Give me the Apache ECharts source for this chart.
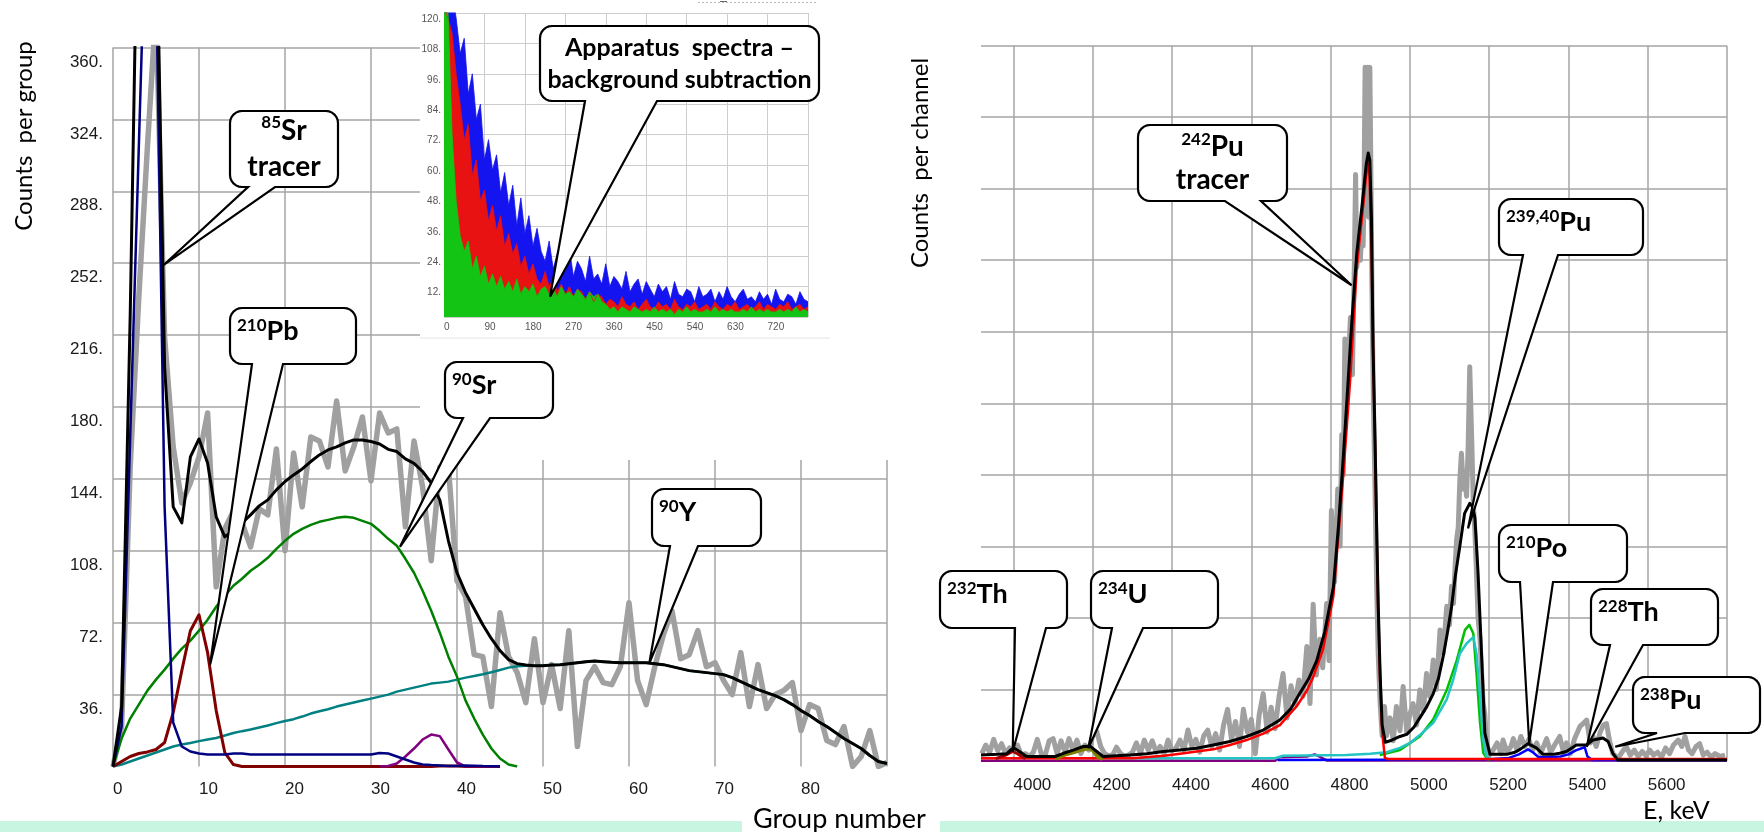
<!DOCTYPE html>
<html><head><meta charset="utf-8">
<script src="https://cdn.jsdelivr.net/npm/echarts@6/dist/echarts.min.js"></script>
<style>html,body{margin:0;padding:0;background:#fff}#c{width:1764px;height:832px}</style>
</head><body><div id="c"></div>
<script>
// ---------------- LEFT CHART DATA (group number 0..90) ----------------
const GROUPS = [0,1,2,3,4,5,6,7,8,9,10,11,12,13,14,15,16,17,18,19,20,21,22,23,24,25,26,27,28,29,30,31,32,33,34,35,36,37,38,39,40,41,42,43,44,45,46,47,48,49,50,51,52,53,54,55,56,57,58,59,60,61,62,63,64,65,66,67,68,69,70,71,72,73,74,75,76,77,78,79,80,81,82,83,84,85,86,87,88,89,90];
const L_MEASURED = [0,20,150,235,310,380,215,160,132,142,155,177,90,119,128,122,110,129,126,159,108,157,130,165,163,150,183,148,160,175,143,177,167,169,120,163,140,103,150,150,93,85,56,55,30,77,55,47,32,64,32,51,29,68,10,43,50,42,41,50,82,43,31,50,66,78,54,56,68,50,52,43,36,57,30,51,29,36,38,42,18,31,29,13,11,20,0,5,18,0,2];
const L_FIT = [0,30,226,470,520,440,200,130,122,155,164,152,125,115,118,122,126,130.5,133.5,138.5,142.7,146,149,152.7,156,158.5,160,162,163.5,163.5,162.7,161.5,158.8,157.7,154,151.8,147.7,142,133.5,113,97,87,79,71,64,58,53.5,51.5,50.8,50.5,50.5,50.8,51,51.5,52,52.5,52.8,52.5,52.2,52,52,52,52,51.5,51,50,49,48,47.5,47,46.5,46,44.5,42.5,40.5,38.5,37,35.5,33.5,31,28,25.5,22.5,20,17,14,11.5,9,5.5,2.5,1.5];
const L_SR85 = [0,20,165,310,455,400,130,22,10,7.5,6.5,6,6,6,6.5,6.5,6,6,6,6,6,6,6,6,6,6,6,6,6,6,6,6.8,6.5,5,3.5,2,1,0.7,0.5,0.3,0.3,0.5,0.4,0.2,0.1,0];
const L_PB210 = [0,2.5,5,6.5,7.3,8.5,12,27,48,68,76,57,28,7,1,0,0,0,0,0,0,0,0,0,0,0,0,0,0,0,0,0,0,0,0,0,0,0,0.3,0.3,0.2,0,0,0,0,0];
const L_SR90 = [0,14,24,31,38,43.5,48.5,54,59,63,68,73.5,80,85.5,90.5,94,98,101,104.5,109,113,116.5,119,121,122.5,123.5,124.5,125,124.5,123,121.5,118,114,110.5,104,97,88,78,67,55,45,33,24,16,9,4,1,0];
const L_Y90 = [0,1,2.5,4,5.5,7,8.5,10,11,11.8,12.7,13.5,14.3,15.5,16.8,17.7,18.5,19.5,20.5,21.7,22.8,23.7,25,26.5,27.7,28.7,30,31,32,33,34,35,36,37.5,38.5,39.5,40.5,41.5,42,42.5,43.5,44.5,45.3,46.2,47.2,48.3,49.5,50.2,50.5,50.5,50.5,50.8,51,51.5,52,52.5,52.8,52.5,52.2,52,52,52,52,51.5,51,50,49,48,47.5,47,46.5,46,44.5,42.5,40.5,38.5,37,35.5,33.5,31,28,25.5,22.5,20,17,14,11.5,9,5.5,2.5,1.5];
const L_PURPLE = [null,null,null,null,null,null,null,null,null,null,null,null,null,null,null,null,null,null,null,null,null,null,null,null,null,null,null,null,null,null,null,0,0.3,1.5,5,9,13.5,16,15.2,8.5,2,0,0,0,0,0];

// ---------------- INSET DATA (apparatus spectra) ----------------
const INSET_CH = [0,9,18,27,36,45,54,63,72,81,90,99,108,117,126,135,144,153,162,171,180,189,198,207,216,225,234,243,252,261,270,279,288,297,306,315,324,333,342,351,360,369,378,387,396,405,414,423,432,441,450,459,468,477,486,495,504,513,522,531,540,549,558,567,576,585,594,603,612,621,630,639,648,657,666,675,684,693,702,711,720,729,738,747,756,765,774,783,792,801,810];
const INSET_BLUE = [125,130,128,118,104,110,88,96,78,84,62,70,58,64,49,57,44,52,36,47,33,40,28,35,26,22,30,19,25,21,18,27,16,22,19,14,24,15,17,13,21,12,16,14,11,18,10,13,15,9,14,11,8,13,10,12,7,14,9,8,11,10,6,12,8,9,11,6,10,7,12,8,6,9,11,7,8,6,10,7,9,5,11,7,6,9,8,5,10,7,6];
const INSET_RED = [122,118,112,96,84,70,76,56,62,46,50,38,44,34,40,28,33,25,29,20,24,17,21,15,13,18,12,15,10,13,9,12,8,11,10,7,10,6,9,8,5,7,6,4,8,5,4,6,3,5,7,4,3,6,4,5,3,7,4,3,5,4,6,3,4,5,3,6,4,3,5,4,6,3,4,5,3,4,6,3,5,4,3,5,4,6,3,4,5,3,4];
const INSET_GREEN = [125,120,72,46,32,26,30,19,24,16,20,13,17,12,16,11,14,10,15,9,12,10,13,8,11,12,9,11,8,12,9,10,8,11,9,7,10,8,9,6,5,3,4,2,4,3,2,4,3,2,3,2,4,2,3,2,3,1,3,2,4,2,3,2,2,3,2,4,2,3,2,3,2,2,3,2,4,2,3,2,3,2,2,3,2,3,2,4,2,3,2];

// ---------------- RIGHT CHART DATA ([E keV, counts per channel]) ----------------
const R_MEASURED = [[3920,1.0],[3930,2.2],[3940,1.2],[3950,3.0],[3960,1.4],[3970,2.4],[3980,1.0],[3990,1.8],[4000,1.5],[4010,2.2],[4020,0.8],[4030,1.0],[4040,0.6],[4050,1.2],[4060,3.0],[4070,1.0],[4080,0.8],[4090,2.8],[4100,3.1],[4110,1.0],[4120,2.8],[4130,1.2],[4140,3.1],[4150,1.5],[4160,2.9],[4170,1.0],[4180,2.2],[4190,1.5],[4200,3.5],[4210,4.1],[4220,2.0],[4230,1.0],[4240,0.7],[4250,0.8],[4260,1.9],[4270,1.0],[4280,0.6],[4290,0.8],[4300,1.2],[4310,2.5],[4320,1.0],[4330,2.9],[4340,1.5],[4350,2.8],[4360,1.2],[4370,2.0],[4380,1.0],[4390,2.9],[4400,1.4],[4410,1.8],[4420,2.9],[4430,1.5],[4440,4.3],[4450,2.0],[4460,3.0],[4470,1.2],[4480,3.5],[4490,4.3],[4500,2.0],[4510,3.8],[4520,1.5],[4530,5.0],[4540,7.2],[4550,3.0],[4560,5.5],[4570,2.0],[4580,7.2],[4590,4.0],[4600,5.8],[4610,1.0],[4620,6.5],[4630,9.4],[4640,4.0],[4650,7.5],[4660,4.5],[4670,9.0],[4680,12.2],[4690,6.0],[4700,10.5],[4710,8.0],[4720,11.3],[4730,9.0],[4740,16.0],[4748,8.0],[4756,21.9],[4764,12],[4773,17],[4780,13],[4790,22],[4796,14],[4802,35],[4810,25],[4818,38],[4824,30],[4828,45.6],[4832,40],[4836,59],[4840,50],[4845,56],[4850,62],[4855,54],[4860,70],[4863,82],[4866,69],[4870,72],[4875,70],[4878,74],[4882,72],[4884,78],[4887,97],[4890,80],[4893,97],[4896,76],[4899,97],[4902,80],[4905,62],[4908,50],[4912,38],[4916,25],[4920,15],[4925,8],[4930,3.5],[4936,7.6],[4941,3.5],[4950,6],[4958,2.8],[4966,7.6],[4975,4.2],[4983,10.4],[4992,4],[5000,6.5],[5008,8.0],[5017,5],[5025,9.9],[5034,7],[5042,12.2],[5050,9],[5059,14.1],[5067,10],[5076,18.3],[5084,15],[5093,21.6],[5100,19],[5105,24.4],[5110,22],[5114,27.2],[5118,31],[5122,32.7],[5126,39.3],[5130,43],[5135,38],[5139,39.3],[5143,37],[5147,44],[5151,55.1],[5156,44.9],[5160,36],[5164,32],[5168,26.2],[5172,20],[5177,16.9],[5181,12.2],[5185,8],[5189,6.6],[5193,2.9],[5200,0.8],[5210,1.5],[5220,2.5],[5230,1.0],[5235,2.9],[5245,1.2],[5255,2.0],[5261,3.1],[5270,1.5],[5280,3.4],[5290,2.0],[5300,3.0],[5310,1.5],[5320,2.5],[5330,1.0],[5345,3.1],[5355,1.2],[5365,2.2],[5378,3.4],[5388,1.05],[5395,2.5],[5405,1.0],[5415,3.0],[5429,4.8],[5437,5.2],[5446,5.7],[5455,2.5],[5462,3.4],[5470,2.0],[5480,4.0],[5488,5.0],[5496,5.2],[5504,2.7],[5512,1.0],[5525,0.3],[5535,1.2],[5546,2.0],[5556,0.8],[5566,1.5],[5576,0.6],[5586,1.3],[5596,0.7],[5605,1.5],[5615,0.8],[5625,1.2],[5635,0.5],[5645,1.8],[5655,1.0],[5665,2.2],[5677,2.9],[5686,2.0],[5694,3.4],[5703,1.5],[5712,1.0],[5722,2.0],[5731,2.4],[5740,0.8],[5750,1.2],[5760,0.5],[5770,1.0],[5782,0.6],[5795,0.8]];
const R_FIT = [[3918,0.8],[3960,0.9],[3983,1.0],[3995,1.6],[4002,1.75],[4015,1.3],[4033,0.6],[4105,0.6],[4126,1.05],[4151,1.5],[4176,2.0],[4193,2.05],[4210,1.3],[4226,0.6],[4260,0.7],[4294,0.8],[4336,1.0],[4378,1.3],[4420,1.5],[4462,1.75],[4504,2.2],[4546,2.7],[4588,3.4],[4630,4.3],[4672,5.7],[4700,7.3],[4723,9.5],[4745,11.5],[4765,14],[4785,18],[4807,24.3],[4820,33],[4832,42.5],[4844,53],[4853,61],[4866,71],[4880,78],[4890,83.5],[4895,85],[4899,84],[4903,76],[4907,58],[4912,45],[4916,33],[4920,22],[4925,12],[4930,5],[4938,2.6],[4950,2.8],[4975,3.4],[4992,3.7],[5010,4.7],[5025,6],[5042,7.5],[5059,9.4],[5072,11.5],[5084,14.6],[5095,18],[5105,21.5],[5115,26],[5126,30],[5138,34.6],[5151,36],[5158,35.5],[5164,34],[5172,26.2],[5181,14.6],[5189,3.9],[5202,0.9],[5244,0.9],[5265,1.2],[5278,1.6],[5298,2.4],[5319,1.8],[5336,0.9],[5360,0.9],[5378,1.05],[5395,1.3],[5420,2.2],[5445,2.2],[5462,2.9],[5487,3.2],[5500,2.7],[5512,1.05],[5525,0.1],[5800,0.1]];
const R_PU242 = [[3918,0.35],[4300,0.35],[4380,0.7],[4420,1.0],[4504,1.6],[4546,2.2],[4588,2.9],[4630,3.8],[4672,5.0],[4714,7.6],[4740,9.8],[4756,11.7],[4781,15.6],[4807,23],[4832,40],[4849,53],[4866,69],[4880,76.5],[4890,82],[4893,83.6],[4898,82],[4903,72],[4908,55],[4912,44],[4916,32],[4920,21],[4925,11],[4930,4],[4937,0.4],[4945,0.25],[5800,0.25]];
const R_PU239 = [[4924,0.8],[4975,1.5],[5025,3.4],[5059,5.8],[5093,9.9],[5118,14],[5139,18.3],[5150,19],[5160,17.8],[5168,12.3],[5177,5.3],[5185,1.1],[5193,0.4],[5200,0.1]];
const R_PU240 = [[4229,0.35],[4660,0.35],[4680,0.7],[4840,0.8],[4900,1.0],[4941,1.2],[4975,1.8],[5000,2.5],[5025,3.6],[5059,5.3],[5093,8.6],[5110,11.5],[5126,15],[5143,16.4],[5160,17.3],[5168,15],[5176,9.5],[5185,2.9],[5193,0.6],[5205,0.2]];
const R_PO_TH = [[4666,0.1],[4950,0.15],[5200,0.2],[5250,0.4],[5275,0.9],[5298,1.6],[5310,1.2],[5325,0.5],[5340,0.5],[5380,0.6],[5400,0.9],[5420,1.5],[5441,1.9],[5448,0.6],[5460,0.1],[5800,0.1]];
const R_U234 = [[4105,0.3],[4126,0.8],[4151,1.2],[4176,1.6],[4190,1.75],[4200,1.5],[4212,0.6],[4225,0.2]];
const R_TH232 = [[3955,0.3],[3980,0.8],[3998,1.3],[4010,1.0],[4030,0.3]];
const R_BASE = [[3918,0],[4660,0],[4670,0.5],[4740,0.6],[4760,0.9],[4775,0.5],[4790,0.05],[5800,0.05]];
const R_TICKS = [4000,4200,4400,4600,4800,5000,5200,5400,5600,5800];
const R_LABELS = [4000,4200,4400,4600,4800,5000,5200,5400,5600];

// ---------------- annotation layout (not data) ----------------
const CALLOUTS = [
 {grid:0, at:[5.85,251],  text:'{s|85}{b|Sr}\n{b|tracer}', box:[230,111,108,76], base:[248,275], center:true, lh:36, fs:28},
 {grid:0, at:[11.28,50.8], text:'{s|210}{b|Pb}', box:[230,308,126,56], base:[252,283], fs:27},
 {grid:0, at:[33.37,110], text:'{s|90}{b|Sr}', box:[445,362,108,56], base:[463,490], fs:27},
 {grid:0, at:[62.36,51.7], text:'{s|90}{b|Y}', box:[652,489,109,57], base:[670,698], fs:27},
 {grid:1, at:[236,8], text:'{b|Apparatus  spectra –}\n{b|background subtraction}', box:[540,26,279,75], base:[585,657], center:true, lh:32, fs:25},
 {grid:2, at:[4853,66.5], text:'{s|242}{b|Pu}\n{b|tracer}', box:[1138,125,149,76], base:[1225,1261], center:true, lh:33, fs:28},
 {grid:2, at:[5146.6,32.5], text:'{s|239,40}{b|Pu}', box:[1499,199,144,56], base:[1523,1558], fs:27},
 {grid:2, at:[5301,2.45], text:'{s|210}{b|Po}', box:[1499,525,128,57], base:[1520,1553], fs:27},
 {grid:2, at:[5446,1.97], text:'{s|228}{b|Th}', box:[1591,589,127,56], base:[1610,1643], fs:27},
 {grid:2, at:[5518,1.97], text:'{s|238}{b|Pu}', box:[1633,677,127,56], base:[1657,1685], fs:27},
 {grid:2, at:[3998,1.27], text:'{s|232}{b|Th}', box:[940,571,127,57], base:[1015,1046], fs:27},
 {grid:2, at:[4188.7,1.75], text:'{s|234}{b|U}', box:[1091,571,127,57], base:[1112,1143], fs:27}
];

const pairs = (xs, ys) => xs.map((x,i)=>[x, ys[i]]).filter(p => p[1] !== null && p[1] !== undefined);
function line(data, color, width, idx, z){
  return {type:'line', data, xAxisIndex:idx, yAxisIndex:idx, showSymbol:false, symbol:'none',
    lineStyle:{color, width, join:'round'}, itemStyle:{color}, z:z||2, silent:true, animation:false};
}
function area(data, color){
  return {type:'line', data, xAxisIndex:1, yAxisIndex:1, showSymbol:false, symbol:'none',
    lineStyle:{color, width:0.8}, areaStyle:{color, opacity:1}, z:4, silent:true, animation:false};
}
const TICKFONT = 'Liberation Sans';
const gridLine = {show:true, lineStyle:{color:'#a4a4a4', width:1.5}};

const chart = echarts.init(document.getElementById('c'), null, {renderer:'canvas', width:1764, height:832});
chart.setOption({
  animation:false,
  backgroundColor:'#ffffff',
  grid:[
    {left:113, top:47.5, width:774, height:719},
    {left:444, top:13, width:364, height:304},
    {left:981, top:45.7, width:746, height:715.1}
  ],
  xAxis:[
    {gridIndex:0, type:'value', min:0, max:90, interval:10,
      axisLine:{show:false}, axisTick:{show:false}, splitLine:gridLine,
      axisLabel:{align:'left', margin:14, fontSize:17, fontFamily:TICKFONT, color:'#1a1a1a', formatter:v=> v===90 ? '' : String(v)}},
    {gridIndex:1, type:'value', min:0, max:810, interval:90, z:3,
      axisLine:{show:false}, axisTick:{show:false}, splitLine:{show:true, lineStyle:{color:'#cdcdcd', width:1}},
      axisLabel:{align:'left', margin:5, fontSize:10, fontFamily:TICKFONT, color:'#555', formatter:v=> v===810 ? '' : String(v)}},
    {gridIndex:2, type:'value', min:3918, max:5800,
      axisLine:{show:false}, axisTick:{show:false, customValues:R_TICKS}, splitLine:gridLine,
      axisLabel:{customValues:R_LABELS, align:'left', margin:16, fontSize:17, fontFamily:TICKFONT, color:'#1a1a1a', formatter:v=>String(v)}}
  ],
  yAxis:[
    {gridIndex:0, type:'value', min:0, max:360, interval:36,
      axisLine:{show:false}, axisTick:{show:false}, splitLine:Object.assign({showMinLine:false}, gridLine),
      axisLabel:{margin:10, fontSize:17, fontFamily:TICKFONT, color:'#1a1a1a', verticalAlign:'top', padding:[6,0,0,0], formatter:v=> v===0 ? '' : v+'.'}},
    {gridIndex:1, type:'value', min:0, max:120, interval:12, z:3,
      axisLine:{show:false}, axisTick:{show:false}, splitLine:{show:true, lineStyle:{color:'#cdcdcd', width:1}},
      axisLabel:{margin:3, fontSize:10, fontFamily:TICKFONT, color:'#555', verticalAlign:'top', padding:[1,0,0,0], formatter:v=> v===0 ? '' : v+'.'}},
    {gridIndex:2, type:'value', min:0, max:100, interval:10,
      axisLine:{show:false}, axisTick:{show:false}, axisLabel:{show:false},
      splitLine:Object.assign({showMinLine:false}, gridLine)}
  ],
  series:[
    line(pairs(GROUPS, L_MEASURED), '#a0a0a0', 5.5, 0),
    line(pairs(GROUPS, L_Y90), '#008080', 2.5, 0),
    line(pairs(GROUPS, L_SR90), '#008000', 2.5, 0),
    line(pairs(GROUPS, L_PB210), '#800000', 3, 0),
    line(pairs(GROUPS, L_PURPLE), '#800080', 2.5, 0),
    line(pairs(GROUPS, L_SR85), '#000080', 2.5, 0),
    line(pairs(GROUPS, L_FIT), '#000000', 3, 0),
    area(pairs(INSET_CH, INSET_BLUE), '#1414f0'),
    area(pairs(INSET_CH, INSET_RED), '#e81212'),
    area(pairs(INSET_CH, INSET_GREEN), '#14c414'),
    line(R_MEASURED, '#a0a0a0', 5, 2),
    line(R_BASE, '#800080', 2.5, 2),
    line(R_PO_TH, '#0000ff', 2.5, 2),
    line(R_PU239, '#00c000', 2.5, 2),
    line(R_PU240, '#22c4c4', 2.5, 2),
    line(R_PU242, '#ff0000', 2.5, 2),
    line(R_U234, '#808000', 4, 2),
    line(R_TH232, '#a00000', 3, 2),
    line(R_FIT, '#000000', 3, 2)
  ]
});

// speech-bubble outline: rounded box plus a wedge tail ending at the anchor pixel
function arcPts(cx, cy, r, a0, a1){
  const out = [], n = 6;
  for (let i = 0; i <= n; i++){ const a = a0 + (a1 - a0) * i / n; out.push([cx + r*Math.cos(a), cy + r*Math.sin(a)]); }
  return out;
}
function bubblePoints(c, tip){
  const [x,y,w,h] = c.box, r = 12, yb = y + h, P = Math.PI;
  let pts = [];
  pts = pts.concat(arcPts(x+w-r, y+r, r, -P/2, 0));
  pts = pts.concat(arcPts(x+w-r, yb-r, r, 0, P/2));
  pts.push([c.base[1], yb], [tip[0], tip[1]], [c.base[0], yb]);
  pts = pts.concat(arcPts(x+r, yb-r, r, P/2, P));
  pts = pts.concat(arcPts(x+r, y+r, r, P, 1.5*P));
  return pts;
}
const els = [];
els.push({type:'rect', shape:{x:0, y:821, width:742, height:11}, style:{fill:'#c8f5e1'}, z:0, silent:true});
els.push({type:'rect', shape:{x:940, y:821, width:824, height:11}, style:{fill:'#c8f5e1'}, z:0, silent:true});
els.push({type:'rect', shape:{x:420, y:0, width:470, height:460}, style:{fill:'#ffffff'}, z:1, silent:true});
els.push({type:'line', shape:{x1:420, y1:338, x2:830, y2:338}, style:{stroke:'#e4e4e4', lineWidth:1}, z:3, silent:true});
els.push({type:'line', shape:{x1:698, y1:2.5, x2:817, y2:2.5}, style:{stroke:'#b8b8b8', lineWidth:1, lineDash:[2,2]}, z:3, silent:true});
els.push({type:'line', shape:{x1:720, y1:1.5, x2:727, y2:1.5}, style:{stroke:'#666', lineWidth:1}, z:3, silent:true});
function txt(x, y, text, size, rot, align){
  return {type:'text', x, y, rotation:rot||0, z:5, silent:true,
    style:{text, fill:'#000', font:`${size}px Lato`, fontFamily:'Lato', fontSize:size,
      textAlign:align||'center', align:align||'center', textVerticalAlign:'middle', verticalAlign:'middle'}};
}
els.push(txt(24, 136, 'Counts  per group', 24, Math.PI/2));
els.push(txt(920, 163, 'Counts  per channel', 24, Math.PI/2));
els.push(txt(753, 819, 'Group number', 27, 0, 'left'));
els.push(txt(1643, 811, 'E, keV', 25, 0, 'left'));

CALLOUTS.forEach(c => {
  const tip = chart.convertToPixel({gridIndex:c.grid}, c.at);
  els.push({type:'polygon', shape:{points:bubblePoints(c, tip)}, silent:true, z:20,
    style:{fill:'#fff', stroke:'#000', lineWidth:2.2, lineJoin:'miter', miterLimit:4}});
  const [x,y,w,h] = c.box;
  const lh = c.lh || 30;
  const r2 = {
    b:{fontFamily:'Lato', fontWeight:'bold', fontSize:c.fs, color:'#000', lineHeight:lh},
    s:{fontFamily:'Lato', fontWeight:'bold', fontSize:17, color:'#000', verticalAlign:'top', padding:[1,0,0,0], lineHeight:lh}
  };
  els.push({type:'text', z:21, silent:true,
    x: c.center ? x + w/2 : x + 7,
    y: c.center ? y + h/2 : y + 23,
    style:{text:c.text, rich:r2, textAlign:c.center?'center':'left', align:c.center?'center':'left',
      textVerticalAlign:'middle', verticalAlign:'middle'}});
});
chart.setOption({graphic:{elements:els}});
</script>
</body></html>
